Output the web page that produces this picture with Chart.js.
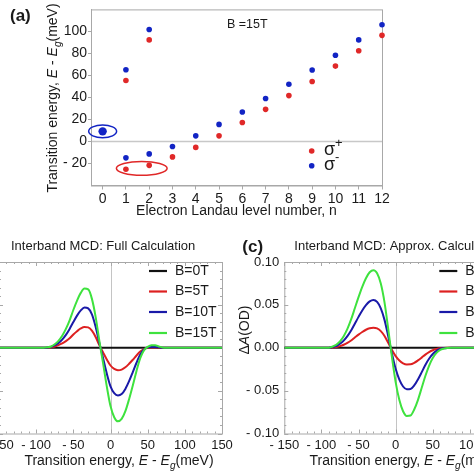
<!DOCTYPE html>
<html>
<head>
<meta charset="utf-8">
<script src="https://cdn.jsdelivr.net/npm/chart.js@4.4.1/dist/chart.umd.min.js"></script>
<style>
  html, body { margin: 0; padding: 0; background: #fff; }
  body { width: 474px; height: 474px; position: relative; overflow: hidden; }
  canvas { position: absolute; }
  #chartA { left: 0; top: 0; }
  #chartB { left: -70px; top: 230px; }
  #chartC { left: 237px; top: 230px; }
</style>
</head>
<body>
<canvas id="chartA" width="474" height="230"></canvas>
<canvas id="chartB" width="310" height="244"></canvas>
<canvas id="chartC" width="300" height="244"></canvas>
<script>
// ---- panel (a): transition energies vs Landau level, B = 15T ----
const levelTicks = [0, 1, 2, 3, 4, 5, 6, 7, 8, 9, 10, 11, 12];
const energyTicksA = [-20, 0, 20, 40, 60, 80, 100];
const sigmaPlusN = [1, 1, 2, 2, 3, 4, 5, 6, 7, 8, 9, 10, 11, 12];
const sigmaPlusE = [55.4, -25.3, 92.3, -21.7, -14, -5.4, 5.1, 17.2, 29.2, 41.7, 54.5, 68.5, 82.4, 96.4];
const sigmaMinusN = [0, 1, 1, 2, 2, 3, 4, 5, 6, 7, 8, 9, 10, 11, 12];
const sigmaMinusE = [9.2, 65.2, -14.9, 101.8, -11.3, -4.5, 5.1, 15.5, 26.8, 39, 52, 64.9, 78.3, 92.3, 106];

// ---- panels (b),(c): interband MCD, Delta A (OD) vs E - Eg (meV) ----
const energy = [-150, -120, -90, -85, -80, -75, -70, -65, -60, -55, -50, -45, -40, -35, -30, -25, -20, -15, -10, -5,
  0, 5, 10, 15, 20, 25, 30, 35, 40, 45, 50, 55, 60, 65, 70, 75, 80, 90, 120, 150];
const fieldLabels = ['B=0T', 'B=5T', 'B=10T', 'B=15T'];
const mcdTicksX = [-150, -100, -50, 0, 50, 100, 150];
const mcdTicksY = [-0.1, -0.05, 0, 0.05, 0.1];

const fullB0 = [0, 0, 0, 0, 0, 0, 0, 0, 0, 0, 0, 0, 0, 0, 0, 0, 0, 0, 0, 0,
  0, 0, 0, 0, 0, 0, 0, 0, 0, 0, 0, 0, 0, 0, 0, 0, 0, 0, 0, 0];
const fullB5 = [0, 0, 0, 0.0002, 0.0005, 0.0015, 0.003, 0.005, 0.0077, 0.011, 0.0155, 0.0193, 0.0225, 0.0242, 0.0237, 0.020, 0.0126, 0.003, -0.0055, -0.0137,
  -0.0207, -0.0247, -0.0262, -0.0255, -0.0228, -0.0187, -0.014, -0.009, -0.0045, -0.0015, 0, 0.0003, 0.0003, 0.0001, 0, 0, 0, 0, 0, 0];
const fullB10 = [0, 0, 0, 0.0003, 0.001, 0.003, 0.0055, 0.0095, 0.015, 0.022, 0.030, 0.0375, 0.0435, 0.047, 0.046, 0.039, 0.0245, 0.0055, -0.012, -0.030,
  -0.045, -0.053, -0.0556, -0.054, -0.048, -0.039, -0.0285, -0.0175, -0.008, -0.002, 0.0005, 0.001, 0.001, 0.0005, 0, 0, 0, 0, 0, 0];
const fullB15 = [0, 0, 0, 0.0005, 0.0015, 0.004, 0.008, 0.014, 0.022, 0.032, 0.044, 0.055, 0.064, 0.069, 0.068, 0.057, 0.036, 0.008, -0.018, -0.045,
  -0.068, -0.081, -0.0858, -0.083, -0.074, -0.06, -0.044, -0.027, -0.012, -0.003, 0.001, 0.003, 0.003, 0.0015, 0.0003, 0, 0, 0, 0, 0];

const approxB0 = [0, 0, 0, 0, 0, 0, 0, 0, 0, 0, 0, 0, 0, 0, 0, 0, 0, 0, 0, 0,
  0, 0, 0, 0, 0, 0, 0, 0, 0, 0, 0, 0, 0, 0, 0, 0, 0, 0, 0, 0];
const approxB5 = [0, 0, 0, 0.0004, 0.0009, 0.0019, 0.0035, 0.0057, 0.0085, 0.0119, 0.0153, 0.0184, 0.021, 0.0228, 0.0234, 0.0225, 0.0194, 0.0137, 0.0057, -0.0027,
  -0.0098, -0.0149, -0.0181, -0.0194, -0.0193, -0.0176, -0.0148, -0.0115, -0.008, -0.0051, -0.0029, -0.0015, -0.0006, -0.0002, 0, 0, 0, 0, 0, 0];
const approxB10 = [0, 0, 0, 0.001, 0.002, 0.0046, 0.0083, 0.0135, 0.020, 0.028, 0.036, 0.0435, 0.0497, 0.054, 0.0557, 0.0535, 0.046, 0.0325, 0.0135, -0.0067,
  -0.0245, -0.0372, -0.0452, -0.0485, -0.0482, -0.044, -0.037, -0.0287, -0.020, -0.0128, -0.0073, -0.0037, -0.0015, -0.0006, -0.0002, 0, 0, 0, 0, 0];
const approxB15 = [0, 0, 0, 0.0015, 0.0035, 0.0075, 0.0135, 0.022, 0.033, 0.046, 0.059, 0.071, 0.081, 0.088, 0.0905, 0.087, 0.075, 0.053, 0.022, -0.011,
  -0.040, -0.061, -0.074, -0.0795, -0.079, -0.072, -0.061, -0.047, -0.033, -0.021, -0.012, -0.006, -0.0025, -0.001, -0.0003, 0, 0, 0, 0, 0];

const FONT = '"Liberation Sans", Arial, sans-serif';
const RED = '#e02828';
const BLUE = '#1224c4';
const FRAME = '#a8a8a8';
const TEXT = '#1a1a1a';
const lineColors = ['#111111', '#dd2020', '#1a1aa8', '#3ee23e'];

const energyTitle = [
  { t: 'Transition energy, ' }, { t: 'E', it: true }, { t: ' - ' }, { t: 'E', it: true },
  { t: 'g', it: true, sub: true }, { t: '(meV)' }
];

function partFont(p, size) {
  const s = (p.sub || p.sup) ? size * 0.72 : size;
  return (p.bold ? 'bold ' : '') + (p.it ? 'italic ' : '') + s + 'px ' + FONT;
}

// draws text built from several styled pieces, centred/left at x, vertically centred at y
function drawRich(ctx, parts, x, y, size, align) {
  ctx.save();
  ctx.textBaseline = 'middle';
  ctx.textAlign = 'left';
  ctx.fillStyle = TEXT;
  let w = 0;
  parts.forEach(p => { ctx.font = partFont(p, size); w += ctx.measureText(p.t).width; });
  let cx = align === 'center' ? x - w / 2 : x;
  parts.forEach(p => {
    ctx.font = partFont(p, size);
    const dy = p.sub ? size * 0.32 : (p.sup ? -size * 0.38 : 0);
    ctx.fillText(p.t, cx, y + dy);
    cx += ctx.measureText(p.t).width;
  });
  ctx.restore();
}

function fmtSigned(v, digits) {
  if (Math.abs(v) < 1e-9) return digits ? (0).toFixed(digits) : '0';
  const s = digits ? Math.abs(v).toFixed(digits) : String(Math.abs(v));
  return v < 0 ? '- ' + s : s;
}

// ---------- panel (a) ----------
const rings = [
  { n: 0, e: 9.2, rn: 0.6, re: 5.8, color: BLUE },
  { n: 1.68, e: -24.4, rn: 1.09, re: 6.3, color: RED }
];

const panelA = {
  id: 'panelA',
  beforeDatasetsDraw(chart) {
    const { ctx, chartArea: a, scales: { x, y } } = chart;
    ctx.save();
    ctx.strokeStyle = '#c8c8c8';
    ctx.lineWidth = 1.5;
    const y0 = y.getPixelForValue(0);
    ctx.beginPath(); ctx.moveTo(a.left, y0); ctx.lineTo(a.right, y0); ctx.stroke();
    ctx.strokeStyle = FRAME;
    ctx.lineWidth = 1;
    ctx.strokeRect(a.left + 0.5, a.top + 0.5, a.right - a.left, a.bottom - a.top);
    ctx.restore();
  },
  afterDraw(chart) {
    const { ctx, chartArea: a, scales: { x, y } } = chart;
    ctx.save();
    ctx.lineWidth = 1.5;
    rings.forEach(r => {
      const cx = x.getPixelForValue(r.n), cy = y.getPixelForValue(r.e);
      const rx = Math.abs(x.getPixelForValue(r.n + r.rn) - cx);
      const ry = Math.abs(y.getPixelForValue(r.e + r.re) - cy);
      ctx.strokeStyle = r.color;
      ctx.beginPath(); ctx.ellipse(cx, cy, rx, ry, 0, 0, Math.PI * 2); ctx.stroke();
    });
    ctx.restore();

    // legend
    const sup = ['+', '-'];
    chart.data.datasets.forEach((ds, i) => {
      const ly = a.bottom - 34.5 + i * 14.7;
      ctx.save();
      ctx.fillStyle = ds.backgroundColor;
      ctx.beginPath(); ctx.arc(a.right - 70.3, ly, 2.8, 0, Math.PI * 2); ctx.fill();
      ctx.restore();
      drawRich(ctx, [{ t: 'σ' }, { t: sup[i], sup: true }], a.right - 58, ly - 1, 18, 'left');
    });

    // texts
    drawRich(ctx, [{ t: 'B =15T' }], a.left + 136, a.top + 15, 12.5, 'left');
    drawRich(ctx, [{ t: '(a)', bold: true }], 10, 16, 17, 'left');
    drawRich(ctx, [{ t: 'Electron Landau level number, n' }], (a.left + a.right) / 2, 211, 14, 'center');
    ctx.save();
    ctx.translate(53.5, 98);
    ctx.rotate(-Math.PI / 2);
    drawRich(ctx, energyTitle, 0, 0, 14, 'center');
    ctx.restore();
  }
};

new Chart(document.getElementById('chartA'), {
  type: 'scatter',
  data: {
    datasets: [
      {
        label: 'σ+',
        data: sigmaPlusN.map((n, i) => ({ x: n, y: sigmaPlusE[i] })),
        backgroundColor: RED, borderColor: RED, borderWidth: 0,
        pointRadius: 2.8, clip: false
      },
      {
        label: 'σ-',
        data: sigmaMinusN.map((n, i) => ({ x: n, y: sigmaMinusE[i] })),
        backgroundColor: BLUE, borderColor: BLUE, borderWidth: 0,
        pointRadius: c => (c.raw && c.raw.x === 0 ? 4.2 : 2.8), clip: false
      }
    ]
  },
  options: {
    responsive: false,
    animation: false,
    events: [],
    layout: { padding: { top: 6, right: 92, left: 0, bottom: 0 } },
    plugins: { legend: { display: false }, tooltip: { enabled: false } },
    scales: {
      x: {
        type: 'linear', min: -0.5, max: 12,
        afterBuildTicks: s => { s.ticks = levelTicks.map(v => ({ value: v })); },
        afterFit: s => { s.height = 44.5; },
        grid: { drawOnChartArea: false, tickLength: 4, color: FRAME },
        border: { color: FRAME },
        ticks: { font: { size: 14, family: FONT }, color: TEXT, padding: 1, maxRotation: 0, autoSkip: false }
      },
      y: {
        min: -40, max: 120,
        afterBuildTicks: s => { s.ticks = energyTicksA.map(v => ({ value: v })); },
        afterFit: s => { s.width = 91; },
        grid: { drawOnChartArea: false, tickLength: 3, color: FRAME },
        border: { color: FRAME },
        ticks: { font: { size: 14, family: FONT }, color: TEXT, padding: 1, callback: v => fmtSigned(v, 0) }
      }
    }
  },
  plugins: [panelA]
});

// ---------- panels (b) and (c) ----------
const mcdFrame = {
  id: 'mcdFrame',
  beforeDatasetsDraw(chart) {
    const { ctx, chartArea: a, scales: { x, y } } = chart;
    ctx.save();
    ctx.strokeStyle = '#c4c4c4';
    ctx.lineWidth = 1;
    const x0 = Math.round(x.getPixelForValue(0)) + 0.5;
    ctx.beginPath(); ctx.moveTo(x0, a.top); ctx.lineTo(x0, a.bottom); ctx.stroke();
    ctx.strokeStyle = FRAME;
    ctx.strokeRect(a.left + 0.5, a.top + 0.5, a.right - a.left, a.bottom - a.top);
    ctx.beginPath();
    for (let e = -150; e <= 150; e += 10) {
      const px = Math.round(x.getPixelForValue(e)) + 0.5;
      const len = e % 50 === 0 ? 4 : 2;
      ctx.moveTo(px, a.bottom); ctx.lineTo(px, a.bottom - len);
      ctx.moveTo(px, a.top); ctx.lineTo(px, a.top + len);
    }
    for (let k = -10; k <= 10; k++) {
      const py = Math.round(y.getPixelForValue(k / 100)) + 0.5;
      const len = k % 5 === 0 ? 4 : 2;
      ctx.moveTo(a.left, py); ctx.lineTo(a.left + len, py);
      ctx.moveTo(a.right, py); ctx.lineTo(a.right - len, py);
    }
    ctx.stroke();
    ctx.restore();
  },
  afterDraw(chart) {
    const { ctx, chartArea: a } = chart;
    const o = chart.options.plugins.mcdFrame;
    drawRich(ctx, [{ t: o.title }], a.left + o.titleX, a.top - 15.5, 13, 'left');
    drawRich(ctx, [{ t: o.tag, bold: true }], a.left - 42, a.top - 15, 17, 'left');
    drawRich(ctx, energyTitle, (a.left + a.right) / 2 + 8.5, a.bottom + 28, 14, 'center');
    ctx.save();
    ctx.translate(a.left - 39, a.top + 68);
    ctx.rotate(-Math.PI / 2);
    drawRich(ctx, [{ t: 'Δ' }, { t: 'A', it: true }, { t: '(OD)' }], 0, 0, 14, 'center');
    ctx.restore();
    // legend
    const rows = [9, 29.5, 50, 71];
    chart.data.datasets.forEach((ds, i) => {
      const ly = a.top + rows[i];
      const lx = a.left + o.legendX;
      ctx.save();
      ctx.strokeStyle = ds.borderColor;
      ctx.lineWidth = 2.2;
      ctx.beginPath(); ctx.moveTo(lx, ly); ctx.lineTo(lx + 18, ly); ctx.stroke();
      ctx.restore();
      drawRich(ctx, [{ t: ds.label }], lx + 26, ly, 14, 'left');
    });
  }
};

function mcdChart(id, series, opts) {
  return new Chart(document.getElementById(id), {
    type: 'line',
    data: {
      datasets: series.map((vals, i) => ({
        label: fieldLabels[i],
        data: energy.map((e, j) => ({ x: e, y: vals[j] })),
        borderColor: lineColors[i],
        borderWidth: 2,
        pointRadius: 0,
        cubicInterpolationMode: 'monotone',
        order: 4 - i
      }))
    },
    options: {
      responsive: false,
      animation: false,
      events: [],
      layout: { padding: { top: 32, right: opts.padRight, left: 0, bottom: 0 } },
      plugins: {
        legend: { display: false }, tooltip: { enabled: false },
        mcdFrame: opts
      },
      scales: {
        x: {
          type: 'linear', min: -150, max: 150,
          afterBuildTicks: s => { s.ticks = mcdTicksX.map(v => ({ value: v })); },
          afterFit: s => { s.height = 40.5; },
          grid: { display: false, drawTicks: false, tickLength: 0 },
          border: { display: false },
          ticks: { font: { size: 13, family: FONT }, color: TEXT, padding: 4, maxRotation: 0, autoSkip: false,
            callback: v => fmtSigned(v, 0) }
        },
        y: {
          min: -0.1, max: 0.1,
          afterBuildTicks: s => { s.ticks = mcdTicksY.map(v => ({ value: v })); },
          afterFit: s => { s.width = opts.axisWidth; },
          grid: { display: false, drawTicks: false, tickLength: 0 },
          border: { display: false },
          ticks: { font: { size: 13, family: FONT }, color: TEXT, padding: 5, callback: v => fmtSigned(v, 2) }
        }
      }
    },
    plugins: [mcdFrame]
  });
}

mcdChart('chartB', [fullB0, fullB5, fullB10, fullB15],
  { title: 'Interband MCD: Full Calculation', tag: '(b)', titleX: 12, legendX: 150, padRight: 18, axisWidth: 69 });
mcdChart('chartC', [approxB0, approxB5, approxB10, approxB15],
  { title: 'Interband MCD: Approx. Calculation', tag: '(c)', titleX: 10, legendX: 155, padRight: 30, axisWidth: 47.3 });
</script>
</body>
</html>
